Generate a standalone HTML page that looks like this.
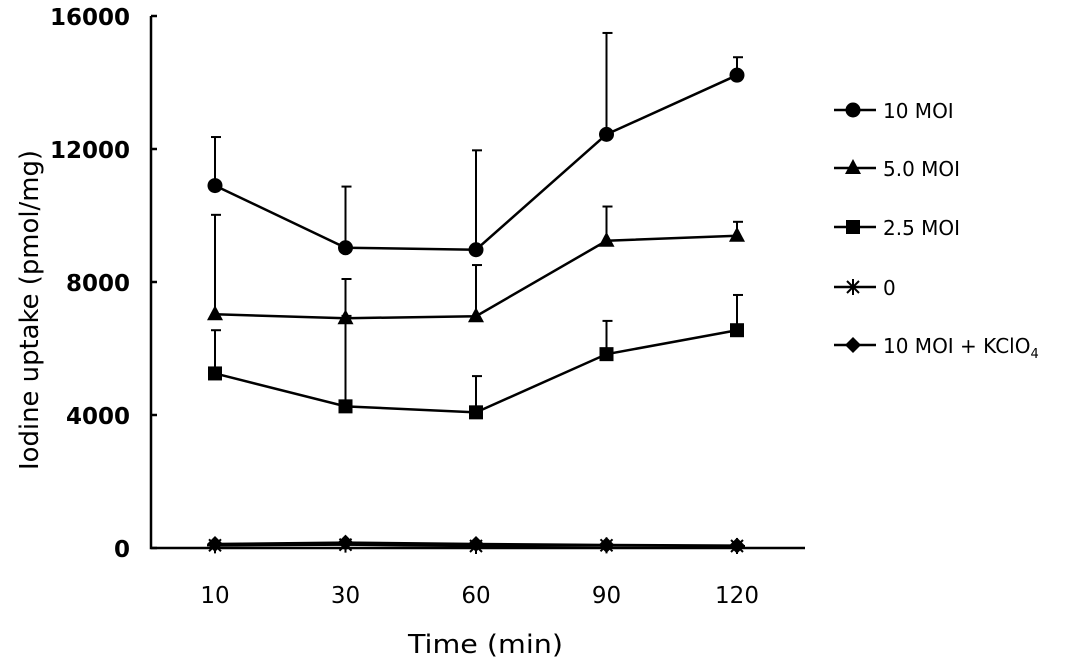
<!DOCTYPE html>
<html><head><meta charset="utf-8"><style>
body{margin:0;background:#fff}
svg{display:block;font-family:"DejaVu Sans","Liberation Sans",sans-serif}
</style></head><body>
<svg id="c" width="1087" height="670"></svg>
<script>
const categories=["10","30","60","90","120"];
const yTicks=[0,4000,8000,12000,16000];
const seriesNames=["10 MOI","5.0 MOI","2.5 MOI","0","10 MOI + KClO4"];
const markers=["circle","triangle","square","star","diamond"];
const vMOI10=[10900,9030,8970,12440,14220];
const eMOI10=[1460,1840,2990,3050,540];
const vMOI5=[7030,6910,6970,9240,9390];
const eMOI5=[2990,1180,1540,1030,420];
const vMOI25=[5250,4260,4080,5830,6550];
const eMOI25=[1300,2720,1090,1000,1060];
const vZero=[80,100,60,80,60];
const eZero=[0,0,0,0,0];
const vKClO4=[120,160,120,90,70];
const eKClO4=[0,0,0,0,0];
const values=[vMOI10,vMOI5,vMOI25,vZero,vKClO4];
const errors=[eMOI10,eMOI5,eMOI25,eZero,eKClO4];

const svg=document.getElementById('c');
const NS="http://www.w3.org/2000/svg";
const y0=548,yTop=16,xL=151,xR=805;
const xs=[215,345,476,605,737];
function X(i){return xs[0]+(xs[4]-xs[0])*i/(categories.length-1);}
function Y(v){return y0-(v/16000)*(y0-yTop);}
function mk(tag,a,parent){const e=document.createElementNS(NS,tag);for(const k in a)e.setAttribute(k,a[k]);(parent||svg).appendChild(e);return e;}
function marker(type,cx,cy,g){
  if(type==="circle")return mk('circle',{cx,cy,r:7.5,fill:'#000'},g);
  if(type==="triangle")return mk('polygon',{points:`${cx},${cy-9} ${cx+8},${cy+6} ${cx-8},${cy+6}`,fill:'#000'},g);
  if(type==="square")return mk('rect',{x:cx-7,y:cy-7,width:14,height:14,fill:'#000'},g);
  if(type==="diamond")return mk('polygon',{points:`${cx},${cy-8} ${cx+8},${cy} ${cx},${cy+8} ${cx-8},${cy}`,fill:'#000'},g);
  return mk('path',{d:`M${cx-8},${cy}H${cx+8}M${cx},${cy-8}V${cy+8}M${cx-6},${cy-6}L${cx+6},${cy+6}M${cx-6},${cy+6}L${cx+6},${cy-6}`,stroke:'#000','stroke-width':2},g);
}
const ax=mk('path',{d:`M${xL},${yTop}V${y0}H${xR}`,stroke:'#000','stroke-width':2.5,fill:'none'});


yTicks.forEach(t=>{
  const tk=mk('line',{x1:xL,x2:xL+6,y1:Y(t),y2:Y(t),stroke:'#000','stroke-width':2.5});
  
  
  const tx=mk('text',{x:130,y:Y(t)+9,'text-anchor':'end','font-size':23,'font-weight':'bold'});
  tx.textContent=t;
  
  
});
categories.forEach((c,i)=>{
  const tx=mk('text',{x:X(i),y:603,'text-anchor':'middle','font-size':23});
  tx.textContent=c;
  
  
});
const xt=mk('text',{x:408,y:653,'font-size':26,textLength:155,lengthAdjust:'spacingAndGlyphs'});
xt.textContent="Time (min)";


const yt=mk('text',{x:-160,y:0,'font-size':26,transform:`translate(38,310) rotate(-90)`,textLength:320,lengthAdjust:'spacingAndGlyphs'});
yt.textContent="Iodine uptake (pmol/mg)";


values.forEach((vals,s)=>{
  const g=mk('g',{});
  
  
  mk('polyline',{points:vals.map((v,i)=>X(i)+','+Y(v)).join(' '),fill:'none',stroke:'#000','stroke-width':2.5},g);
  vals.forEach((v,i)=>{
    const e=errors[s][i];
    if(e>0){
      mk('line',{x1:X(i),x2:X(i),y1:Y(v),y2:Y(v+e),stroke:'#000','stroke-width':2},g);
      mk('line',{x1:X(i)-4,x2:X(i)+6,y1:Y(v+e),y2:Y(v+e),stroke:'#000','stroke-width':2},g);
    }
    const m=marker(markers[s],X(i),Y(v),g);
    
    
  });
});
const ly=[110,168,227,287,345];
seriesNames.forEach((n,s)=>{
  const g=mk('g',{});
  
  
  mk('line',{x1:834,x2:876,y1:ly[s],y2:ly[s],stroke:'#000','stroke-width':2.5},g);
  marker(markers[s],853,ly[s],g);
  const t=mk('text',{x:883,y:ly[s]+8,'font-size':20},g);
  if(s===4){t.innerHTML='10 MOI + KClO<tspan font-size="13" dy="5">4</tspan>';}
  else t.textContent=n;
});
</script>
</body></html>
